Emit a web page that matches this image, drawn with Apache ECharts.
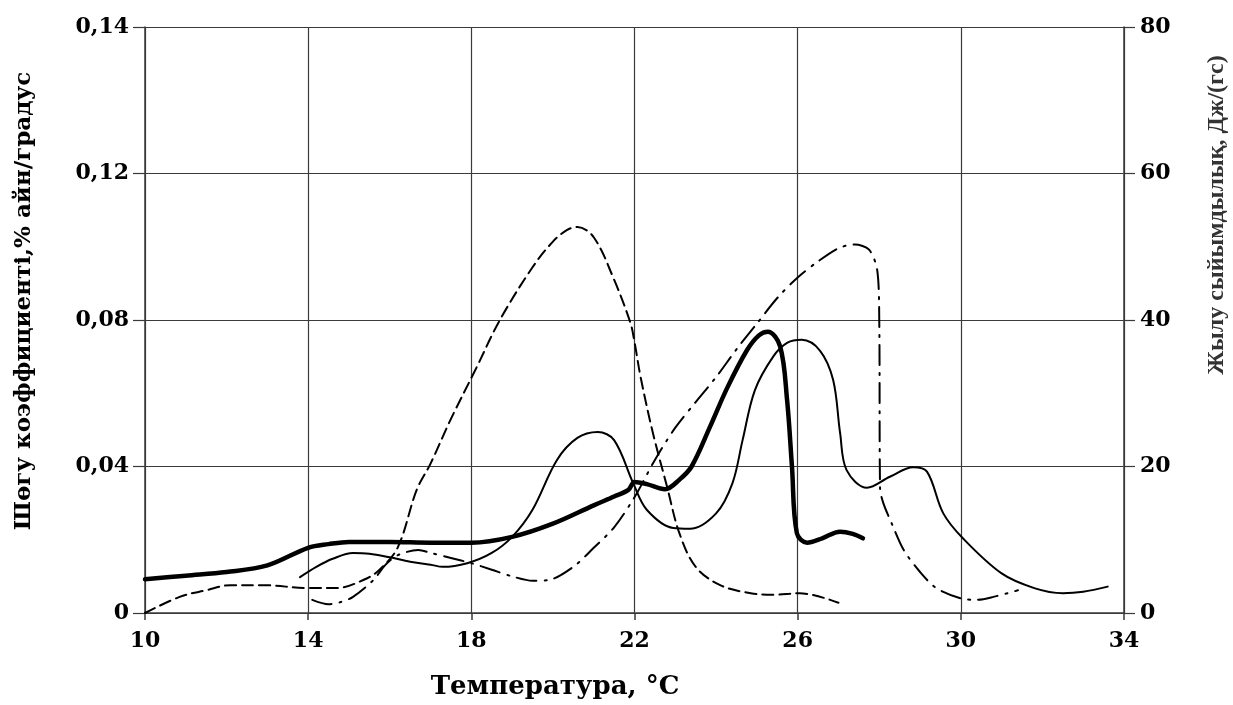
<!DOCTYPE html>
<html>
<head>
<meta charset="utf-8">
<script src="https://cdn.jsdelivr.net/npm/echarts@6/dist/echarts.min.js"></script>
<style>
html,body{margin:0;padding:0;background:#fff;}
#chart{width:1233px;height:705px;}
</style>
</head>
<body>
<div id="chart"></div>
<script>
// ---- Data ----
const xTitle = 'Температура, °C';
const leftTitle = 'Шөгу коэффициенті,% айн/градус';
const rightTitle = 'Жылу сыйымдылық, Дж/(гс)';
const leftTickLabels = ['0', '0,04', '0,08', '0,12', '0,14'];
const rightTickLabels = ['0', '20', '40', '60', '80'];

// thick solid curve
const thickX = [10, 11, 12, 13, 14, 14.5, 15, 16, 17, 18, 19, 20, 21, 21.5, 21.85, 22, 22.3, 22.75, 23.1, 23.4, 23.85, 24.27, 24.76, 25.05, 25.27, 25.57, 25.74, 25.86, 25.98, 26.23, 26.6, 27.04, 27.35, 27.6];
const thickY = [4.6, 5.1, 5.6, 6.5, 8.9, 9.4, 9.7, 9.7, 9.6, 9.6, 10.4, 12.2, 14.7, 15.9, 16.8, 17.9, 17.6, 16.9, 18.2, 20.0, 25.4, 30.7, 35.9, 37.9, 38.4, 36.4, 29.1, 20.0, 10.9, 9.6, 10.2, 11.1, 10.8, 10.2];

// thin solid curve
const thinX = [13.8, 14.2, 14.6, 15.1, 15.5, 16.0, 16.5, 17.0, 17.3, 17.9, 18.5, 19.0, 19.5, 20.1, 20.6, 21.1, 21.5, 21.97, 22.3, 22.95, 23.36, 24.0, 24.4, 24.65, 24.95, 25.4, 25.75, 26.1, 26.55, 26.87, 27.04, 27.2, 27.7, 28.26, 28.83, 29.17, 29.57, 30.05, 31.0, 31.8, 32.5, 33.0, 33.6];
const thinY = [4.9, 6.3, 7.4, 8.2, 8.1, 7.6, 7.0, 6.6, 6.3, 6.8, 8.2, 10.4, 14.1, 20.9, 23.9, 24.7, 23.6, 17.7, 14.1, 11.6, 11.5, 13.6, 17.7, 23.6, 30.4, 35.0, 36.9, 37.3, 35.8, 31.8, 24.6, 19.5, 17.1, 18.6, 19.9, 19.3, 13.6, 10.2, 5.4, 3.4, 2.7, 2.9, 3.6];

// dashed curve
const dashX = [10, 10.85, 11.5, 12.1, 12.9, 14.0, 14.7, 15.35, 15.75, 16.2, 16.66, 17.0, 17.5, 18.1, 18.7, 19.5, 20.0, 20.35, 20.6, 21.0, 21.5, 21.9, 22.0, 22.15, 22.45, 22.8, 23.1, 23.5, 24.1, 24.85, 25.4, 26.05, 27.0];
const dashY = [0, 2.2, 3.1, 3.8, 3.8, 3.4, 3.4, 4.5, 5.9, 9.0, 16.8, 20.4, 26.5, 33.2, 40.0, 47.2, 50.7, 52.3, 52.7, 51.3, 45.5, 39.6, 37.0, 32.2, 24.6, 17.2, 10.9, 6.3, 3.8, 2.7, 2.5, 2.7, 1.4];

// dash-dot curve
const dotDashX = [14.1, 14.5, 14.8, 15.1, 15.6, 15.9, 16.2, 16.7, 17.0, 17.5, 18.0, 18.5, 19.0, 19.5, 19.9, 20.5, 21.0, 21.5, 22.0, 22.5, 23.0, 23.5, 24.0, 24.5, 25.0, 25.5, 26.0, 26.5, 27.0, 27.4, 27.75, 27.95, 28.0, 28.02, 28.1, 28.3, 28.6, 29.0, 29.4, 30.0, 30.4, 30.8, 31.4];
const dotDashY = [1.8, 1.2, 1.5, 2.2, 4.5, 6.6, 7.9, 8.6, 8.2, 7.5, 6.8, 5.9, 5.0, 4.4, 4.5, 6.3, 8.9, 11.7, 15.8, 20.9, 25.3, 28.8, 32.2, 36.0, 39.5, 43.0, 45.8, 48.0, 49.8, 50.3, 49.6, 46.8, 40.0, 17.0, 15.0, 12.3, 8.6, 5.6, 3.4, 2.0, 1.8, 2.2, 3.1];

const zip = (xs, ys) => xs.map((x, i) => [x, ys[i]]);

const SERIF = '"DejaVu Serif", "Liberation Serif", serif';
const TIMES = '"Liberation Serif", serif';
const gridColor = '#3a3a3a';

const chart = echarts.init(document.getElementById('chart'), null, {renderer: 'canvas'});

const lineSeries = (name, data, width, type, smooth) => ({
  name: name,
  type: 'line',
  yAxisIndex: 1,
  data: data,
  showSymbol: false,
  symbol: 'none',
  smooth: smooth,
  lineStyle: {color: '#000', width: width, type: type, cap: 'round', join: 'round'},
  z: 3
});

chart.setOption({
  animation: false,
  backgroundColor: '#fff',
  grid: {left: 145, right: 109, top: 27, bottom: 92, containLabel: false},
  xAxis: {
    type: 'value', min: 10, max: 34, interval: 4,
    axisLine: {show: true, lineStyle: {color: gridColor, width: 1.5}},
    axisTick: {show: true, length: 7, lineStyle: {color: gridColor, width: 1.5}},
    axisLabel: {margin: 17, color: '#000', fontFamily: SERIF, fontWeight: 'bold', fontSize: 22},
    splitLine: {show: true, lineStyle: {color: gridColor, width: 1.2}}
  },
  yAxis: [
    {
      type: 'value', position: 'left', min: 0, max: 0.16, interval: 0.04,
      axisLine: {show: true, lineStyle: {color: gridColor, width: 1.5}},
      axisTick: {show: true, length: 12, lineStyle: {color: gridColor, width: 1.2}},
      axisLabel: {
        margin: 16, color: '#000', fontFamily: SERIF, fontWeight: 'bold', fontSize: 22,
        formatter: (v) => leftTickLabels[Math.round(v / 0.04)]
      },
      splitLine: {show: false}
    },
    {
      type: 'value', position: 'right', min: 0, max: 80, interval: 20,
      axisLine: {show: true, lineStyle: {color: gridColor, width: 1.5}},
      axisTick: {show: true, length: 11, lineStyle: {color: gridColor, width: 1.2}},
      axisLabel: {
        margin: 16, color: '#000', fontFamily: SERIF, fontWeight: 'bold', fontSize: 22,
        formatter: (v) => rightTickLabels[Math.round(v / 20)]
      },
      splitLine: {show: true, lineStyle: {color: gridColor, width: 1.2}}
    }
  ],
  graphic: [
    {type: 'text', x: 555, y: 687, style: {text: xTitle, font: 'bold 26px ' + SERIF, fill: '#000', align: 'center', verticalAlign: 'middle'}},
    {type: 'text', x: 24, y: 301, rotation: Math.PI / 2, style: {text: leftTitle, font: 'bold 23px ' + SERIF, fill: '#000', align: 'center', verticalAlign: 'middle'}},
    {type: 'text', x: 1217, y: 215, rotation: Math.PI / 2, style: {text: rightTitle, font: 'bold 24px ' + TIMES, fill: '#333', align: 'center', verticalAlign: 'middle'}}
  ],
  series: [
    lineSeries('dash', zip(dashX, dashY), 2, [11, 6], 0.35),
    lineSeries('dotdash', zip(dotDashX, dotDashY), 2, [20, 8, 2, 8], 0.3),
    lineSeries('thin', zip(thinX, thinY), 2, 'solid', 0.35),
    lineSeries('thick', zip(thickX, thickY), 4.5, 'solid', 0.35)
  ]
});
</script>
</body>
</html>
